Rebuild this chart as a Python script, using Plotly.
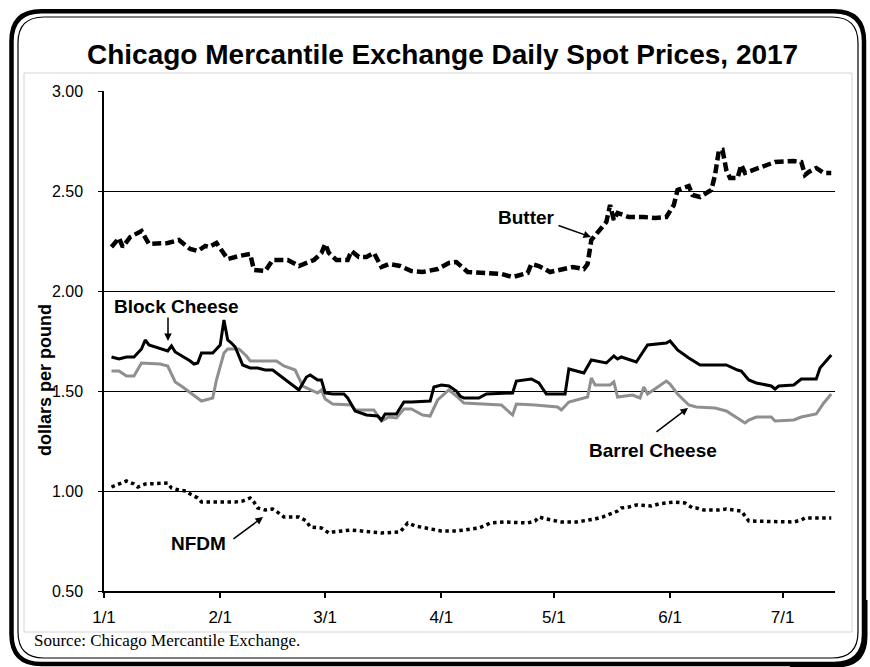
import plotly.graph_objects as go

# ---------------- data ----------------
month_ticks = ["2017-01-01", "2017-02-01", "2017-03-01", "2017-04-01",
               "2017-05-01", "2017-06-01", "2017-07-01"]
month_labels = ["1/1", "2/1", "3/1", "4/1", "5/1", "6/1", "7/1"]

butter_dates = ["2017-01-03","2017-01-05","2017-01-06","2017-01-08","2017-01-11","2017-01-13",
    "2017-01-18","2017-01-21","2017-01-24","2017-01-26","2017-01-28","2017-01-29","2017-01-31",
    "2017-02-01","2017-02-03","2017-02-06","2017-02-09","2017-02-10","2017-02-13","2017-02-15",
    "2017-02-19","2017-02-22","2017-02-26","2017-02-28","2017-03-01","2017-03-02","2017-03-04",
    "2017-03-07","2017-03-08","2017-03-10","2017-03-12","2017-03-14","2017-03-16","2017-03-18",
    "2017-03-21","2017-03-24","2017-03-27","2017-03-31","2017-04-03","2017-04-05","2017-04-08",
    "2017-04-13","2017-04-17","2017-04-20","2017-04-24","2017-04-25","2017-04-27","2017-04-30",
    "2017-05-03","2017-05-06","2017-05-09","2017-05-10","2017-05-11","2017-05-13","2017-05-15",
    "2017-05-16","2017-05-17","2017-05-18","2017-05-21","2017-05-25","2017-05-28","2017-05-31",
    "2017-06-02","2017-06-03","2017-06-06","2017-06-07","2017-06-09","2017-06-12","2017-06-13",
    "2017-06-14","2017-06-15","2017-06-16","2017-06-17","2017-06-19","2017-06-20","2017-06-21",
    "2017-06-25","2017-06-29","2017-07-04","2017-07-06","2017-07-07","2017-07-08","2017-07-10",
    "2017-07-12","2017-07-14"]
butter_values = [2.22,2.265,2.22,2.27,2.30,2.235,
    2.24,2.255,2.21,2.20,2.225,2.22,2.24,
    2.21,2.16,2.175,2.185,2.105,2.10,2.155,
    2.155,2.125,2.155,2.19,2.235,2.19,2.155,
    2.155,2.20,2.17,2.17,2.19,2.12,2.135,
    2.125,2.10,2.095,2.11,2.14,2.145,2.095,
    2.09,2.085,2.07,2.09,2.135,2.125,2.095,
    2.11,2.12,2.11,2.135,2.255,2.30,2.345,
    2.43,2.355,2.39,2.37,2.37,2.365,2.37,
    2.43,2.505,2.525,2.48,2.47,2.505,2.58,
    2.70,2.705,2.605,2.565,2.565,2.63,2.59,
    2.615,2.645,2.65,2.645,2.58,2.595,2.615,
    2.59,2.59]

block_dates = ["2017-01-03","2017-01-05","2017-01-07","2017-01-09","2017-01-11","2017-01-12",
    "2017-01-13","2017-01-18","2017-01-19","2017-01-20","2017-01-24","2017-01-25","2017-01-26",
    "2017-01-27","2017-01-30","2017-02-01","2017-02-02","2017-02-03","2017-02-04","2017-02-05",
    "2017-02-07","2017-02-09","2017-02-11","2017-02-13","2017-02-15","2017-02-22","2017-02-24",
    "2017-02-25","2017-02-27","2017-02-28","2017-03-01","2017-03-03","2017-03-06","2017-03-07",
    "2017-03-09","2017-03-12","2017-03-15","2017-03-16","2017-03-17","2017-03-20","2017-03-22",
    "2017-03-24","2017-03-29","2017-03-30","2017-04-01","2017-04-03","2017-04-05","2017-04-06",
    "2017-04-07","2017-04-11","2017-04-13","2017-04-20","2017-04-21","2017-04-25","2017-04-27",
    "2017-04-29","2017-05-04","2017-05-05","2017-05-09","2017-05-11","2017-05-15","2017-05-17",
    "2017-05-18","2017-05-19","2017-05-23","2017-05-26","2017-05-31","2017-06-01","2017-06-03",
    "2017-06-06","2017-06-09","2017-06-16","2017-06-19","2017-06-20","2017-06-22","2017-06-24",
    "2017-06-28","2017-06-29","2017-06-30","2017-07-04","2017-07-06","2017-07-10","2017-07-11",
    "2017-07-12","2017-07-14"]
block_values = [1.67,1.66,1.67,1.67,1.71,1.755,
    1.73,1.70,1.725,1.695,1.65,1.635,1.64,
    1.69,1.69,1.73,1.855,1.755,1.74,1.72,
    1.63,1.615,1.615,1.605,1.605,1.505,1.57,
    1.58,1.555,1.555,1.49,1.485,1.485,1.465,
    1.40,1.38,1.375,1.355,1.385,1.385,1.445,
    1.445,1.45,1.52,1.53,1.525,1.50,1.475,
    1.465,1.465,1.485,1.49,1.55,1.56,1.54,
    1.485,1.485,1.61,1.59,1.655,1.64,1.675,
    1.66,1.67,1.645,1.73,1.74,1.75,1.705,
    1.665,1.63,1.63,1.605,1.60,1.555,1.54,
    1.525,1.51,1.525,1.53,1.56,1.56,1.615,
    1.635,1.68]

barrel_dates = ["2017-01-03","2017-01-05","2017-01-07","2017-01-09","2017-01-11","2017-01-16",
    "2017-01-18","2017-01-20","2017-01-22","2017-01-27","2017-01-30","2017-01-31","2017-02-02",
    "2017-02-03","2017-02-06","2017-02-08","2017-02-09","2017-02-16","2017-02-18","2017-02-21",
    "2017-02-23","2017-02-27","2017-02-28","2017-03-01","2017-03-03","2017-03-08","2017-03-09",
    "2017-03-14","2017-03-16","2017-03-18","2017-03-20","2017-03-22","2017-03-24","2017-03-27",
    "2017-03-29","2017-03-31","2017-04-03","2017-04-05","2017-04-07","2017-04-17","2017-04-20",
    "2017-04-21","2017-04-26","2017-05-02","2017-05-03","2017-05-05","2017-05-10","2017-05-11",
    "2017-05-12","2017-05-16","2017-05-17","2017-05-18","2017-05-22","2017-05-24","2017-05-25",
    "2017-05-26","2017-05-31","2017-06-01","2017-06-03","2017-06-04","2017-06-06","2017-06-08",
    "2017-06-13","2017-06-16","2017-06-21","2017-06-22","2017-06-24","2017-06-28","2017-06-29",
    "2017-07-04","2017-07-06","2017-07-10","2017-07-12","2017-07-14"]
barrel_values = [1.60,1.60,1.575,1.575,1.64,1.635,
    1.625,1.545,1.52,1.45,1.465,1.555,1.69,
    1.71,1.71,1.675,1.65,1.65,1.625,1.605,
    1.525,1.49,1.505,1.46,1.435,1.43,1.405,
    1.405,1.35,1.37,1.365,1.41,1.41,1.38,
    1.375,1.455,1.505,1.475,1.44,1.43,1.38,
    1.435,1.43,1.42,1.405,1.445,1.47,1.565,
    1.53,1.53,1.545,1.47,1.48,1.465,1.52,
    1.485,1.55,1.535,1.485,1.465,1.43,1.42,
    1.415,1.40,1.34,1.355,1.37,1.37,1.35,
    1.355,1.37,1.385,1.44,1.485]

nfdm_dates = ["2017-01-03","2017-01-05","2017-01-07","2017-01-09","2017-01-10","2017-01-12",
    "2017-01-18","2017-01-19","2017-01-21","2017-01-23","2017-01-24","2017-01-26","2017-01-27",
    "2017-01-28","2017-02-05","2017-02-07","2017-02-09","2017-02-10","2017-02-11","2017-02-13",
    "2017-02-15","2017-02-17","2017-02-18","2017-02-22","2017-02-24","2017-02-25","2017-02-28",
    "2017-03-02","2017-03-03","2017-03-08","2017-03-16","2017-03-21","2017-03-22","2017-03-23",
    "2017-03-25","2017-03-29","2017-04-01","2017-04-05","2017-04-07","2017-04-09","2017-04-11",
    "2017-04-13","2017-04-14","2017-04-18","2017-04-24","2017-04-26","2017-04-27","2017-04-29",
    "2017-05-03","2017-05-07","2017-05-11","2017-05-12","2017-05-14","2017-05-16","2017-05-18",
    "2017-05-19","2017-05-21","2017-05-23","2017-05-27","2017-05-29","2017-05-31","2017-06-02",
    "2017-06-05","2017-06-07","2017-06-08","2017-06-10","2017-06-14","2017-06-16","2017-06-18",
    "2017-06-20","2017-06-21","2017-06-22","2017-07-04","2017-07-06","2017-07-07","2017-07-14"]
nfdm_values = [1.02,1.035,1.05,1.035,1.02,1.035,
    1.04,1.015,1.005,1.00,0.985,0.965,0.945,
    0.945,0.945,0.95,0.965,0.945,0.915,0.905,
    0.91,0.885,0.87,0.87,0.85,0.82,0.815,
    0.79,0.795,0.805,0.79,0.795,0.815,0.84,
    0.825,0.81,0.80,0.80,0.805,0.81,0.815,
    0.83,0.84,0.845,0.84,0.85,0.87,0.86,
    0.845,0.845,0.855,0.86,0.87,0.885,0.90,
    0.915,0.92,0.93,0.925,0.935,0.94,0.945,
    0.94,0.915,0.915,0.905,0.905,0.91,0.905,
    0.90,0.875,0.85,0.845,0.855,0.865,0.865]

# ---------------- figure ----------------
W, H = 870, 667
L, R, T, B = 104, 835, 91, 591   # plot area in pixels


def px(x):
    return (x - L) / (R - L)


def py(y):
    return (B - y) / (B - T)


fig = go.Figure()
fig.add_trace(go.Scatter(x=barrel_dates, y=barrel_values, mode="lines", name="Barrel Cheese",
                         line=dict(color="#8f8f8f", width=3)))
fig.add_trace(go.Scatter(x=block_dates, y=block_values, mode="lines", name="Block Cheese",
                         line=dict(color="black", width=3)))
fig.add_trace(go.Scatter(x=butter_dates, y=butter_values, mode="lines", name="Butter",
                         line=dict(color="black", width=4.5, dash="9px,4px")))
fig.add_trace(go.Scatter(x=nfdm_dates, y=nfdm_values, mode="lines", name="NFDM",
                         line=dict(color="black", width=3.5, dash="3.5px,3.5px")))


def rrect(x0, y0, x1, y1, r):
    pts = [("M", x0 + r, y0), ("L", x1 - r, y0), ("Q", x1, y0, x1, y0 + r),
           ("L", x1, y1 - r), ("Q", x1, y1, x1 - r, y1), ("L", x0 + r, y1),
           ("Q", x0, y1, x0, y1 - r), ("L", x0, y0 + r), ("Q", x0, y0, x0 + r, y0)]
    s = ""
    for p in pts:
        cmd = p[0]
        coords = p[1:]
        parts = []
        for i in range(0, len(coords), 2):
            parts.append(f"{px(coords[i]):.5f},{py(coords[i+1]):.5f}")
        s += cmd + " " + " ".join(parts) + " "
    return s + "Z"


def corner_shadow():
    # thicker shading along the bottom-right corner of the frame
    pts = [("M", 866, 600), ("L", 866, 636), ("Q", 866, 666, 836, 666), ("L", 790, 666)]
    s = ""
    for p in pts:
        coords = p[1:]
        parts = [f"{px(coords[i]):.5f},{py(coords[i+1]):.5f}" for i in range(0, len(coords), 2)]
        s += p[0] + " " + " ".join(parts) + " "
    return s


shapes = [
    dict(type="path", xref="paper", yref="paper", path=rrect(11.5, 11.3, 864, 664, 30),
         line=dict(color="black", width=4.5)),
    dict(type="path", xref="paper", yref="paper", path=corner_shadow(),
         line=dict(color="black", width=3)),
    dict(type="path", xref="paper", yref="paper", path=rrect(18, 17, 858, 658, 26),
         line=dict(color="black", width=1.2)),
    dict(type="rect", xref="paper", yref="paper", x0=px(24), x1=px(852), y0=py(632), y1=py(73),
         line=dict(color="#d4d4d4", width=1)),
]

lab_font = dict(family="Liberation Sans, Arial, sans-serif", size=19, color="black")
annotations = [
    dict(text="<b>Chicago Mercantile Exchange Daily Spot Prices, 2017</b>", xref="paper", yref="paper",
         x=px(442), y=py(55), xanchor="center", yanchor="middle", showarrow=False,
         font=dict(family="Liberation Sans, Arial, sans-serif", size=28, color="black")),
    dict(text="<b>dollars per pound</b>", xref="paper", yref="paper", x=px(45), y=py(380),
         textangle=-90, xanchor="center", yanchor="middle", showarrow=False,
         font=dict(family="Liberation Sans, Arial, sans-serif", size=18, color="black")),
    dict(text="Source: Chicago Mercantile Exchange.", xref="paper", yref="paper", x=px(32), y=py(640),
         xanchor="left", yanchor="middle", showarrow=False,
         font=dict(family="Liberation Serif, Times New Roman, serif", size=17, color="black")),
]

labels = [("Butter", 526, 217, 591, 237, -34, -12),
          ("Block Cheese", 176, 306, 168, 341, 0, -25),
          ("Barrel Cheese", 653, 450, 688, 408, -33, 25),
          ("NFDM", 198, 543, 263, 517, -31, 23)]
for txt, tx, ty, hx, hy, ax, ay in labels:
    annotations.append(dict(text=f"<b>{txt}</b>", xref="paper", yref="paper", x=px(tx), y=py(ty),
                            xanchor="center", yanchor="middle", showarrow=False, font=lab_font))
    annotations.append(dict(text="", xref="paper", yref="paper", x=px(hx), y=py(hy),
                            ax=ax, ay=ay, showarrow=True, arrowhead=2, arrowsize=1,
                            arrowwidth=1.5, arrowcolor="black", standoff=0))

tick_font = dict(family="Liberation Sans, Arial, sans-serif", size=16, color="black")
fig.update_layout(
    width=W, height=H,
    margin=dict(l=L, r=W - R, t=T, b=H - B, pad=0),
    paper_bgcolor="white", plot_bgcolor="white",
    showlegend=False,
    shapes=shapes, annotations=annotations,
    xaxis=dict(type="date", range=["2017-01-01", "2017-07-15"], tickvals=month_ticks,
               ticktext=month_labels, showgrid=False, showline=True, linecolor="black",
               linewidth=1.5, ticks="outside", ticklen=5, tickcolor="black", tickwidth=1.5,
               tickfont=dict(tick_font, size=17), ticklabelstandoff=5, zeroline=False),
    yaxis=dict(range=[0.5, 3.0], tickvals=[0.5, 1.0, 1.5, 2.0, 2.5, 3.0],
               ticktext=["0.50", "1.00", "1.50", "2.00", "2.50", "3.00"],
               showgrid=True, gridcolor="black", gridwidth=1.2, showline=True,
               linecolor="black", linewidth=1.5, ticks="outside", ticklen=4,
               tickcolor="black", tickfont=tick_font, ticklabelstandoff=12, zeroline=False),
)

fig.write_html("out.html", config={"displayModeBar": False},
               post_script="document.body.style.margin='0';")
